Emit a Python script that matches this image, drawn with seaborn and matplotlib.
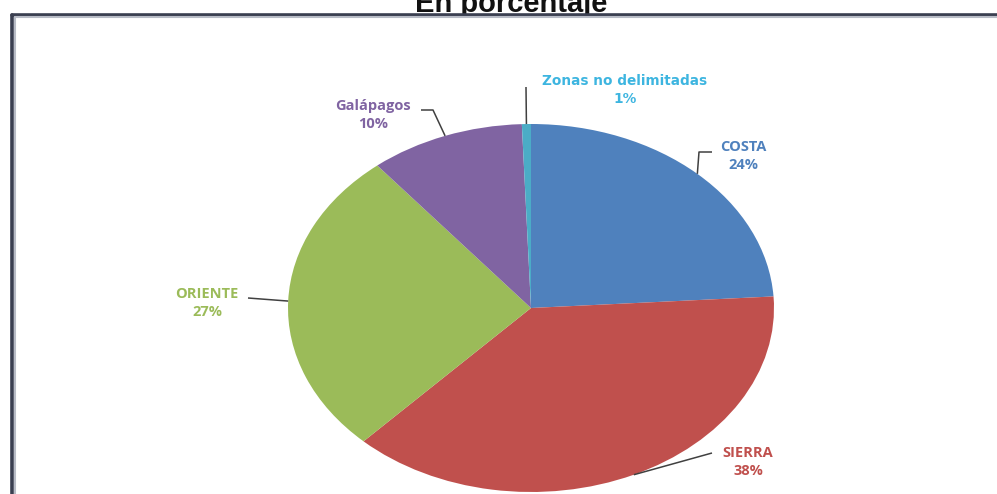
import numpy as np
import seaborn as sns
import matplotlib.pyplot as plt
from matplotlib.lines import Line2D
from matplotlib.patches import Rectangle

# Data
regions = ["COSTA", "SIERRA", "ORIENTE", "Galápagos", "Zonas no delimitadas"]
shares = [24.0, 38.1, 27.0, 10.3, 0.6]
colors = ["#4F81BD", "#C0504D", "#9BBB59", "#8064A2", "#4BACC6"]
text_colors = ["#4F81BD", "#C0504D", "#9BBB59", "#8064A2", "#3DB5E0"]

# Layout (pixels of the 997x494 image)
W, H = 997, 494
CX, CY, RX, RY = 531, 308, 243, 184
label_pos = {
    "COSTA": (743, 156),
    "SIERRA": (748, 462),
    "ORIENTE": (207, 303),
    "Galápagos": (373, 115),
    "Zonas no delimitadas": (625, 90),
}
leader_pts = {
    "COSTA": [(699, 152), (712, 152)],
    "SIERRA": [(712, 453)],
    "ORIENTE": [(248, 298)],
    "Galápagos": [(433, 110), (421, 110)],
    "Zonas no delimitadas": [(526, 87)],
}


def px(x, y):
    return (x - CX) / RX, (CY - y) / RY


sns.set_theme(style="white")
plt.rcParams["font.family"] = ["Open Sans", "DejaVu Sans"]

fig = plt.figure(figsize=(W / 100, H / 100), dpi=100)
ax = fig.add_axes([0, 0, 1, 1])
ax.patch.set_visible(False)

wedges, _ = ax.pie(shares, colors=colors, startangle=90, counterclock=False,
                   wedgeprops=dict(linewidth=0))
ax.set_aspect("auto")
ax.set_xlim(px(0, 0)[0], px(W, 0)[0])
ax.set_ylim(px(0, H)[1], px(0, 0)[1])
ax.axis("off")

for w, name, share, tc in zip(wedges, regions, shares, text_colors):
    mid = np.deg2rad((w.theta1 + w.theta2) / 2)
    pts = [(np.cos(mid), np.sin(mid))] + [px(*p) for p in leader_pts[name]]
    xs, ys = zip(*pts)
    ax.plot(xs, ys, color="#404040", lw=1.1, solid_capstyle="butt")
    tx, ty = px(*label_pos[name])
    # the small slice label is drawn wider in the original
    fam = "DejaVu Sans" if share < 1 else "Open Sans"
    fs = 9.8 if share < 1 else 10.5
    ax.text(tx, ty, f"{name}\n{share:.0f}%", color=tc, fontsize=fs, fontweight="bold",
            family=fam, ha="center", va="center", linespacing=1.45)

# Title, partly hidden behind the framed chart area
fig.text(511 / W, 1 - 12 / H, "En porcentaje", ha="center", va="baseline",
         fontsize=21, fontweight="bold", family="Liberation Sans", color="#111111",
         zorder=-3)
fig.add_artist(Rectangle((12 / W, 0), 1, 1 - 14 / H, transform=fig.transFigure,
                         facecolor="white", edgecolor="none", zorder=-2))

# Frame around the chart area (cut by the image edges)
for off, col, lw in [(0, "#3a3f50", 2.6), (2.5, "#b8bcc6", 1.5)]:
    fig.add_artist(Line2D([(12 + off) / W, 1], [1 - (15 + off) / H] * 2,
                          color=col, lw=lw, transform=fig.transFigure, zorder=-1))
    fig.add_artist(Line2D([(12 + off) / W] * 2, [0, 1 - (15 + off) / H],
                          color=col, lw=lw, transform=fig.transFigure, zorder=-1))

fig.savefig("out.png", dpi=100)
